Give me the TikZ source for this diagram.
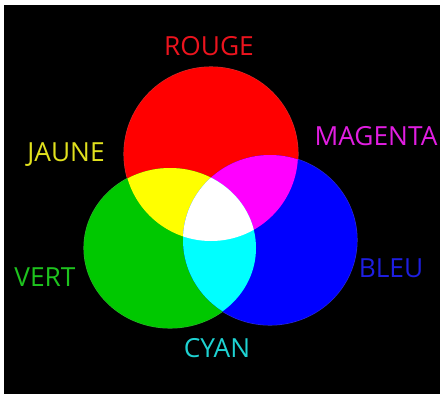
\documentclass[tikz,border=0pt]{standalone}
\usepackage{fontspec}
\setmainfont{Open Sans}
\begin{document}
\begin{tikzpicture}[x=1pt,y=-1pt,
  lbl/.style={font=\fontsize{26.3}{30}\selectfont, inner sep=0pt, anchor=center},
  rim/.style={line width=1.1pt}]
\definecolor{cR}{RGB}{255,0,0}
\definecolor{cG}{RGB}{0,200,0}
\definecolor{cB}{RGB}{0,0,255}
\definecolor{cY}{RGB}{255,255,0}
\definecolor{cM}{RGB}{255,0,255}
\definecolor{cC}{RGB}{0,255,255}
\definecolor{tR}{RGB}{235,20,30}
\definecolor{tY}{RGB}{225,225,30}
\definecolor{tM}{RGB}{225,30,225}
\definecolor{tG}{RGB}{30,195,30}
\definecolor{tB}{RGB}{30,30,225}
\definecolor{tC}{RGB}{30,210,210}
\useasboundingbox (0,0) rectangle (440,394);
\fill[white] (0,0) rectangle (440,394);
\fill[black] (4,5) rectangle (440,394);
\coordinate (r) at (211,154);
\coordinate (g) at (170,248);
\coordinate (b) at (270,240);
\def\Rpath{(r) ellipse [x radius=87pt, y radius=87pt]}
\def\Gpath{(g) ellipse [x radius=86pt, y radius=80pt]}
\def\Bpath{(b) ellipse [x radius=87pt, y radius=85pt]}
% outer rims
\draw[rim, draw=cR!60!gray] \Rpath;
\draw[rim, draw=cG!60!gray] \Gpath;
\draw[rim, draw=cB!60!gray] \Bpath;
% primaries
\fill[cR] \Rpath;
\fill[cG] \Gpath;
\fill[cB] \Bpath;
% overlaps
\begin{scope}\clip \Rpath; \fill[cY] \Gpath; \end{scope}
\begin{scope}\clip \Rpath; \fill[cM] \Bpath; \end{scope}
\begin{scope}\clip \Gpath; \fill[cC] \Bpath; \end{scope}
\begin{scope}\clip \Rpath; \clip \Gpath; \fill[white] \Bpath; \end{scope}
% labels
\node[lbl, text=tR] (rouge) at (209,46) {ROUGE};
\node[lbl, text=tY] (jaune) at (66,155) {JAUNE};
\node[lbl, text=tM] (magenta) at (376,136) {MAGENTA};
\node[lbl, text=tG] (vert) at (45,277) {VERT};
\node[lbl, text=tB] (bleu) at (391,268) {BLEU};
\node[lbl, text=tC] (cyan) at (217,348) {CYAN};
\end{tikzpicture}
\end{document}
